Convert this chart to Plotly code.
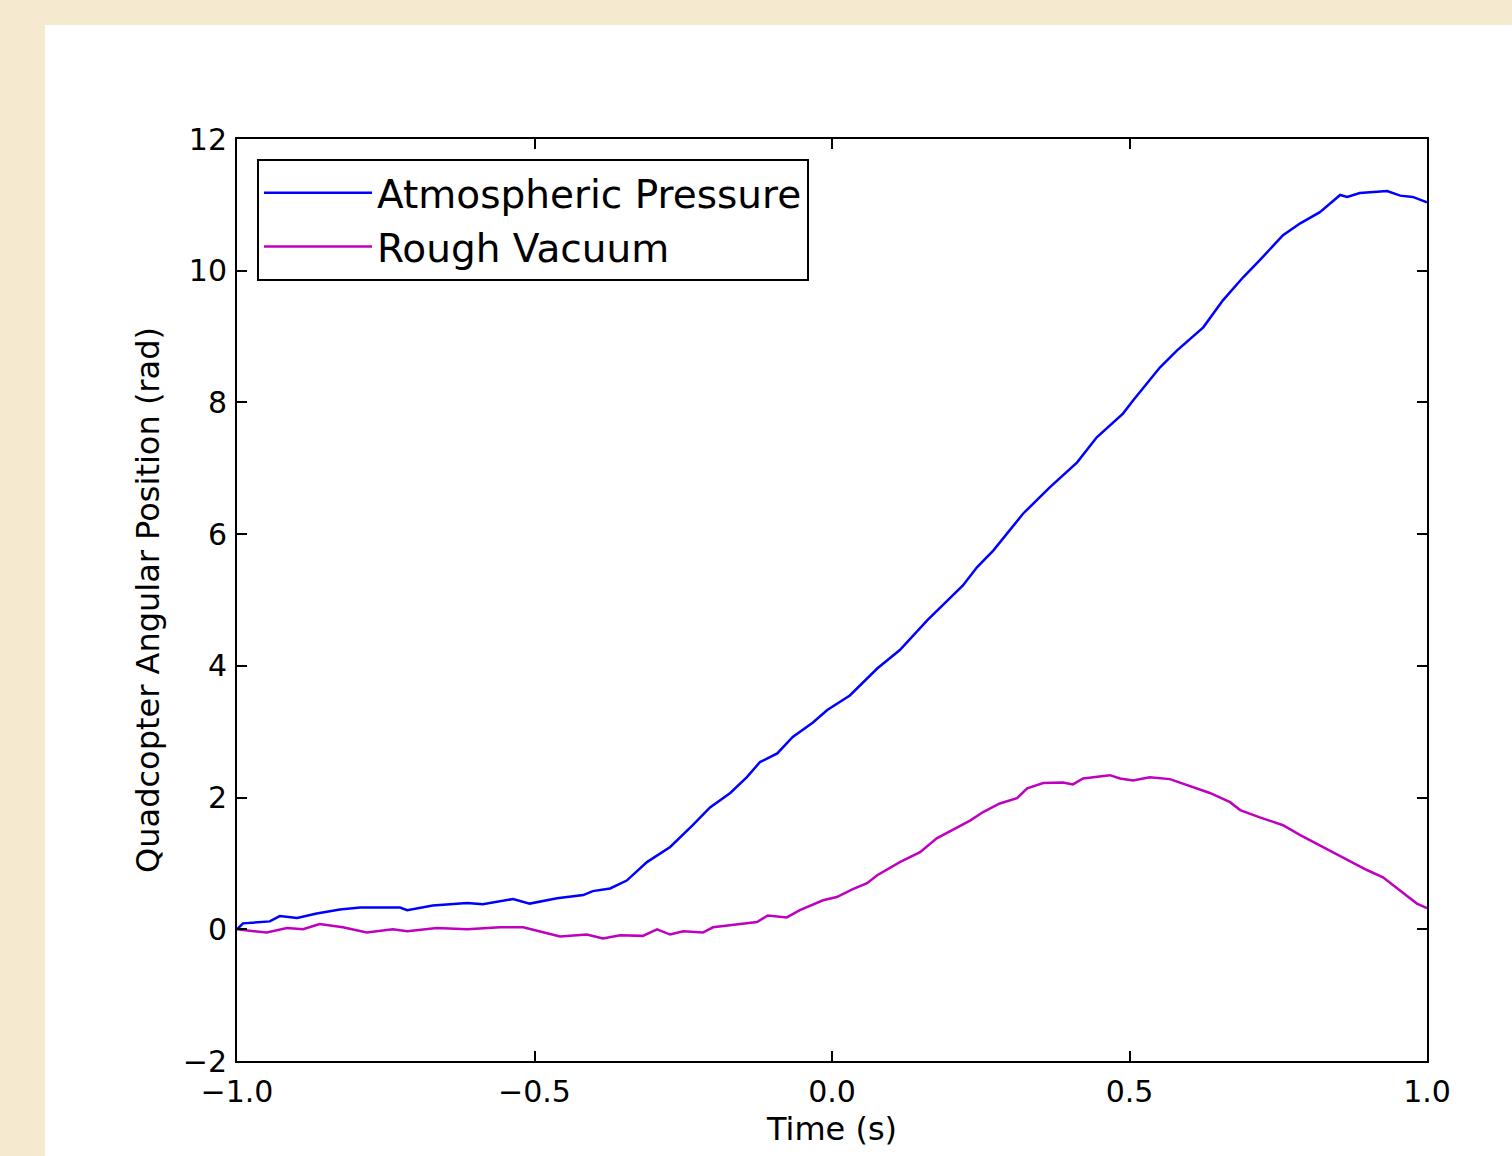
import plotly.graph_objects as go

# Atmospheric Pressure (blue)
t_atm = [-1.000, -0.990, -0.945, -0.928, -0.899, -0.866, -0.827, -0.793, -0.726, -0.714,
         -0.671, -0.613, -0.587, -0.536, -0.508, -0.462, -0.418, -0.402, -0.373, -0.345,
         -0.311, -0.272, -0.234, -0.205, -0.171, -0.143, -0.121, -0.092, -0.066, -0.032,
         -0.008, 0.030, 0.076, 0.114, 0.160, 0.220, 0.244, 0.271, 0.321, 0.366,
         0.412, 0.445, 0.489, 0.506, 0.551, 0.580, 0.624, 0.657, 0.691, 0.719,
         0.758, 0.787, 0.820, 0.854, 0.866, 0.887, 0.916, 0.933, 0.955, 0.976, 1.000]
y_atm = [0.00, 0.09, 0.12, 0.20, 0.17, 0.24, 0.30, 0.33, 0.33, 0.29,
         0.36, 0.40, 0.38, 0.46, 0.39, 0.47, 0.52, 0.58, 0.62, 0.74,
         1.02, 1.25, 1.58, 1.85, 2.07, 2.31, 2.54, 2.67, 2.92, 3.14,
         3.33, 3.55, 3.96, 4.24, 4.69, 5.22, 5.50, 5.75, 6.31, 6.71,
         7.09, 7.47, 7.83, 8.03, 8.53, 8.79, 9.14, 9.55, 9.90, 10.16,
         10.54, 10.72, 10.89, 11.15, 11.12, 11.18, 11.20, 11.21, 11.14, 11.12, 11.04]

# Rough Vacuum (magenta)
t_vac = [-1.000, -0.950, -0.916, -0.889, -0.861, -0.822, -0.782, -0.738, -0.714, -0.664,
         -0.613, -0.558, -0.519, -0.486, -0.457, -0.412, -0.385, -0.356, -0.318, -0.294,
         -0.272, -0.250, -0.217, -0.200, -0.150, -0.126, -0.108, -0.076, -0.054, -0.015,
         0.008, 0.035, 0.059, 0.076, 0.114, 0.148, 0.176, 0.198, 0.232, 0.254,
         0.282, 0.311, 0.328, 0.355, 0.388, 0.405, 0.422, 0.467, 0.484, 0.506,
         0.534, 0.568, 0.602, 0.635, 0.669, 0.686, 0.719, 0.758, 0.787, 0.825,
         0.871, 0.899, 0.926, 0.955, 0.983, 1.000]
y_vac = [0.00, -0.05, 0.02, 0.00, 0.08, 0.03, -0.05, 0.00, -0.03, 0.02,
         0.00, 0.03, 0.03, -0.05, -0.11, -0.08, -0.14, -0.09, -0.10, 0.00,
         -0.08, -0.03, -0.05, 0.03, 0.08, 0.11, 0.21, 0.18, 0.29, 0.44,
         0.49, 0.61, 0.70, 0.82, 1.02, 1.17, 1.38, 1.49, 1.65, 1.78,
         1.91, 1.99, 2.14, 2.22, 2.23, 2.20, 2.29, 2.34, 2.29, 2.26,
         2.31, 2.28, 2.17, 2.07, 1.93, 1.81, 1.70, 1.58, 1.43, 1.25,
         1.02, 0.90, 0.79, 0.59, 0.39, 0.32]

x_tickvals = [-1.0, -0.5, 0.0, 0.5, 1.0]
x_ticktext = ["\u22121.0", "\u22120.5", "0.0", "0.5", "1.0"]
y_tickvals = [-2, 0, 2, 4, 6, 8, 10, 12]
y_ticktext = ["\u22122", "0", "2", "4", "6", "8", "10", "12"]

FONT = "DejaVu Sans"

fig = go.Figure()
fig.add_trace(go.Scatter(x=t_atm, y=y_atm, mode="lines", name="Atmospheric Pressure",
                         line=dict(color="#0000FF", width=2.5)))
fig.add_trace(go.Scatter(x=t_vac, y=y_vac, mode="lines", name="Rough Vacuum",
                         line=dict(color="#BF00BF", width=2.5)))

axis_common = dict(showline=True, linecolor="black", linewidth=2, mirror="ticks",
                   ticks="inside", ticklen=10, tickwidth=1.5, tickcolor="black",
                   showgrid=False, zeroline=False,
                   tickfont=dict(family=FONT, size=30, color="black"))

fig.update_xaxes(range=[-1, 1], tickvals=x_tickvals, ticktext=x_ticktext, ticklabelstandoff=3,
                 title=dict(text="Time (s)", font=dict(family=FONT, size=32, color="black"), standoff=10),
                 **axis_common)
fig.update_yaxes(range=[-2, 12], tickvals=y_tickvals, ticktext=y_ticktext, ticklabelstandoff=2,
                 title=dict(text="Quadcopter Angular Position (rad)", font=dict(family=FONT, size=32, color="black"), standoff=14),
                 **axis_common)

fig.add_shape(type="rect", xref="paper", yref="paper",
              x0=(45 - 237) / 1190, x1=(1520 - 237) / 1190,
              y0=(1061 - 1170) / 922, y1=(1061 - 25) / 922,
              fillcolor="white", line=dict(width=0), layer="below")

fig.update_layout(
    width=1512, height=1156,
    margin=dict(l=237, r=85, t=139, b=95),
    paper_bgcolor="#F5EAD0", plot_bgcolor="white",
    font=dict(family=FONT, color="black"),
    legend=dict(x=(257 - 237) / 1190, y=(1061 - 159) / 922, xanchor="left", yanchor="top",
                bgcolor="white", bordercolor="black", borderwidth=2, itemwidth=108,
                font=dict(family=FONT, size=39, color="black"), tracegroupgap=0),
    showlegend=True,
)

fig.write_html("out.html", config={"displayModeBar": False},
               post_script="document.body.style.margin='0';document.body.style.padding='0';")
